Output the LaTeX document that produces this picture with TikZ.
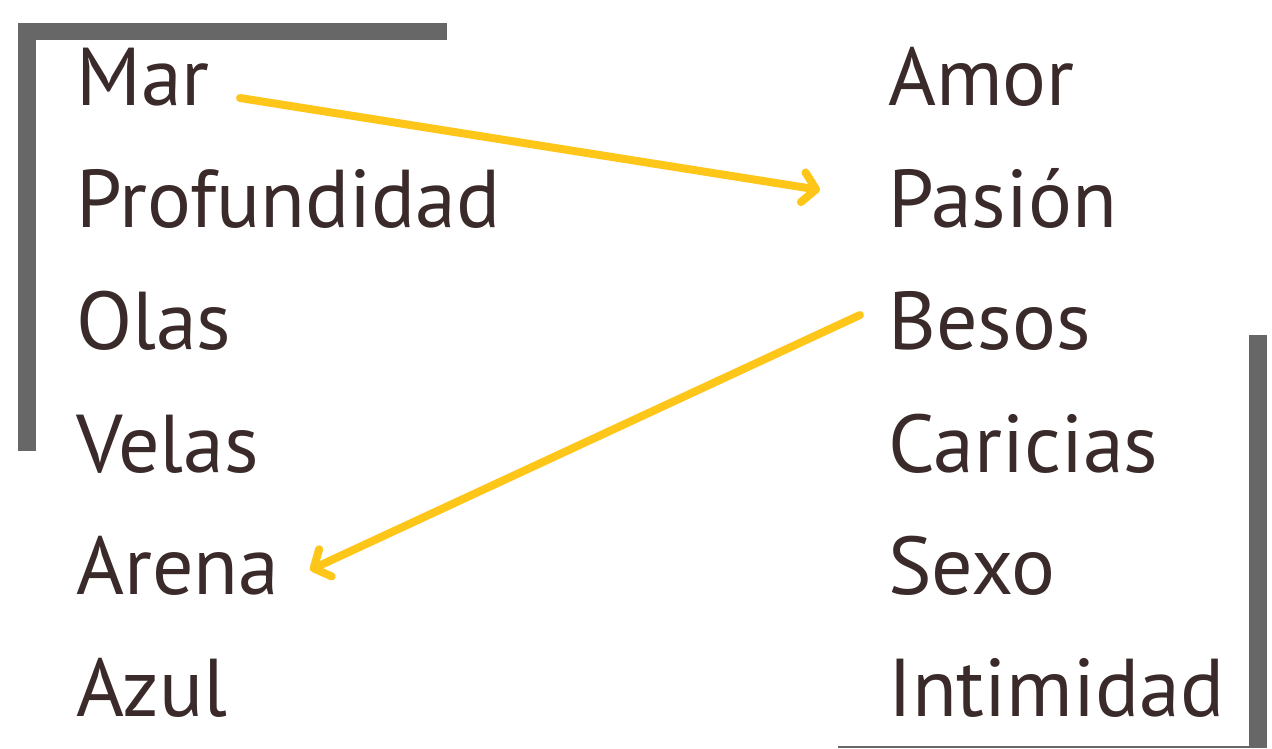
\documentclass[tikz,border=0pt]{standalone}
\usepackage{fontspec}
\setmainfont{PT Sans}
\usetikzlibrary{arrows.meta}
\definecolor{ink}{HTML}{3A2A2A}
\definecolor{bar}{HTML}{676767}
\definecolor{gold}{HTML}{FFC61A}
\begin{document}
\begin{tikzpicture}[x=1pt,y=1pt,
  word/.style={anchor=base west,inner sep=0pt,text=ink,font=\fontsize{82}{90}\selectfont},
  link/.style={draw=gold,line width=8pt,line cap=round,
    -{Straight Barb[length=13pt,width=30pt,round]}}]
\useasboundingbox (0,0) rectangle (1272,748);
\fill[white] (0,0) rectangle (1272,748);
% brackets
\fill[bar] (18,725) rectangle (447,708);
\fill[bar] (18,725) rectangle (36,297);
\fill[bar] (1249,413) rectangle (1267,0);
\fill[bar] (838,0) rectangle (1267,2.5);
% left column
\node[word] (mar)  at (76,642) {Mar};
\node[word] (prof) at (76,520) {Profundidad};
\node[word] (olas) at (76,398) {Olas};
\node[word] (vel)  at (76,276) {Velas};
\node[word] (are)  at (76,154) {Arena};
\node[word] (azu)  at (76,32)  {Azul};
% right column
\node[word] (amor) at (888,642) {Amor};
\node[word] (pas)  at (888,520) {Pasión};
\node[word] (bes)  at (888,398) {Besos};
\node[word] (car)  at (888,276) {Caricias};
\node[word] (sex)  at (888,154) {Sexo};
\node[word] (inti) at (888,32)  {Intimidad};
% arrows
\coordinate (a1s) at (240,650);
\coordinate (a1e) at (820,558);
\coordinate (a2s) at (860,433);
\coordinate (a2e) at (310,178);
\draw[link] (a1s) -- (a1e);
\draw[link] (a2s) -- (a2e);
\end{tikzpicture}
\end{document}
